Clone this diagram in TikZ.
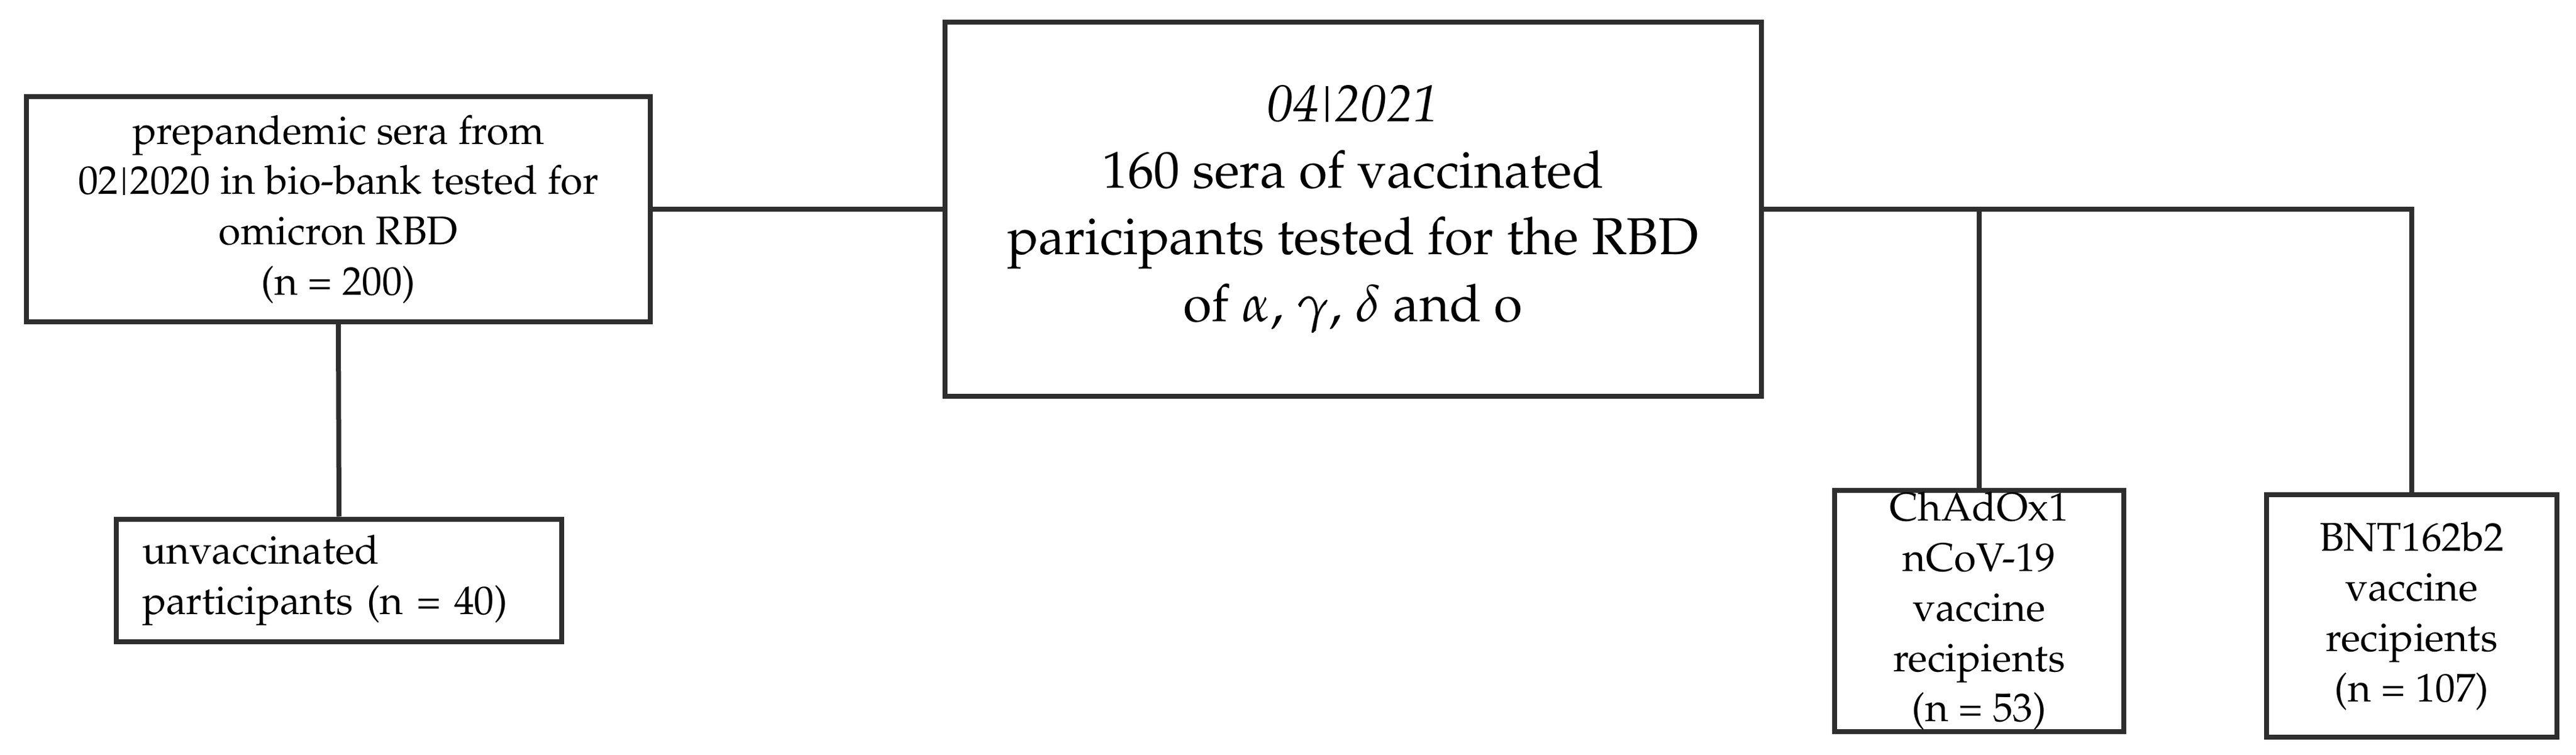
\documentclass[tikz,border=0pt]{standalone}
\usepackage[T1]{fontenc}
\usepackage{mathpazo}
\usepackage{tikz}
\usepackage{xcolor}
\colorlet{mydarkgray}{black!82}
\newcommand{\yearbar}{\kern0.13em\rule[-0.01em]{0.045em}{0.69em}\kern0.13em}

\begin{document}
\begin{tikzpicture}[link/.style={line width=0.08cm,mydarkgray},
    box/.style={draw=mydarkgray,line width=0.08cm,fill=white,inner sep=0,align=center,
      font=\fontsize{18.5}{23.2}\selectfont},
    bigbox/.style={box,font=\fontsize{24}{30.8}\selectfont}]
    \message{Study cohorts^^J}
    \useasboundingbox (0,0) rectangle (41.87,-12.27);

    \node[box,minimum width=10.14cm,minimum height=3.66cm] (P) at (5.50,-3.40) {prepandemic sera from\\02\yearbar2020 in bio-bank tested for\\omicron RBD\\(n = 200)};
    \node[bigbox,minimum width=13.27cm,minimum height=6.07cm] (M) at (21.99,-3.40) {\textit{04}\yearbar\textit{2021}\\160 sera of vaccinated\\paricipants tested for the RBD\\of $\alpha$, $\gamma$, $\delta$ and o};

    \node[box,align=left,text width=6.40cm,inner xsep=0.42cm,minimum height=1.99cm] (U) at (5.51,-9.43) {unvaccinated\\participants (n = 40)};
    \node[box,minimum width=4.70cm,minimum height=3.92cm] (C) at (32.17,-9.93) {ChAdOx1\\nCoV-19\\vaccine\\recipients\\(n = 53)};
    \node[box,minimum width=4.72cm,minimum height=3.94cm] (B) at (39.20,-10.01) {BNT162b2\\vaccine\\recipients\\(n = 107)};

    \draw[link] (P.east) -- (M.west);
    \draw[link] (P.south) -- (U.north);
    \draw[link] (M.east) -| (B.north);
    \draw[link] (C.north) -- (C.north |- M.east);

    \end{tikzpicture}
\end{document}
